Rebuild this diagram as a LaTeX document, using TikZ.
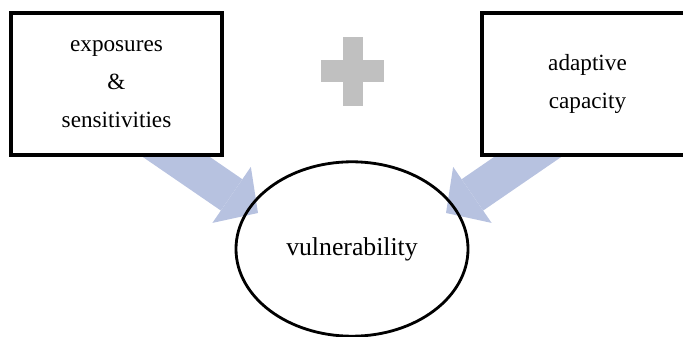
\documentclass[tikz,border=0pt]{standalone}
\usepackage{fontspec}
\setmainfont{Liberation Serif}
\usetikzlibrary{arrows.meta,backgrounds,shapes.geometric}
\definecolor{arrowblue}{RGB}{183,194,224}
\definecolor{plusgray}{RGB}{192,192,192}

\begin{document}
\begin{tikzpicture}[
        factor/.style={draw,line width=2.6pt,fill=white,minimum width=5.275cm,minimum height=3.55cm,align=center,font=\fontsize{16.5}{27}\selectfont},
        result/.style={draw,ellipse,line width=2pt,minimum width=5.8cm,minimum height=4.36cm,font=\fontsize{18.3}{22}\selectfont},
        feed/.style={arrowblue,line width=0.95cm,-{Triangle[width=1.7cm,length=0.8cm,line width=0pt]}}
    ]

            \path[use as bounding box,clip] (0,0) rectangle (17.075,8.425);

            % the two parts
            \node[factor] (expo) at (2.9125,6.325) {exposures\\\&\\sensitivities};
            \node[factor] (adapt) at (14.6875,6.325) {adaptive\\capacity};

            % plus sign
            \path [fill=plusgray] (8.5625,5.775) rectangle (9.0625,7.5);
            \path [fill=plusgray] (8.025,6.3625) rectangle (9.6,6.9125);

            \node[result] (vuln) at (8.8,2.2) {vulnerability};

            \coordinate (tipL) at (6.45,3.1);
            \coordinate (tipR) at (11.15,3.1);

            \begin{scope}[on background layer]
                \draw[feed] ([xshift=0.4675cm,yshift=0.7025cm]expo.south) -- (tipL);
                \draw[feed] ([xshift=-0.4675cm,yshift=0.7025cm]adapt.south) -- (tipR);
            \end{scope}
        \end{tikzpicture}
\end{document}
